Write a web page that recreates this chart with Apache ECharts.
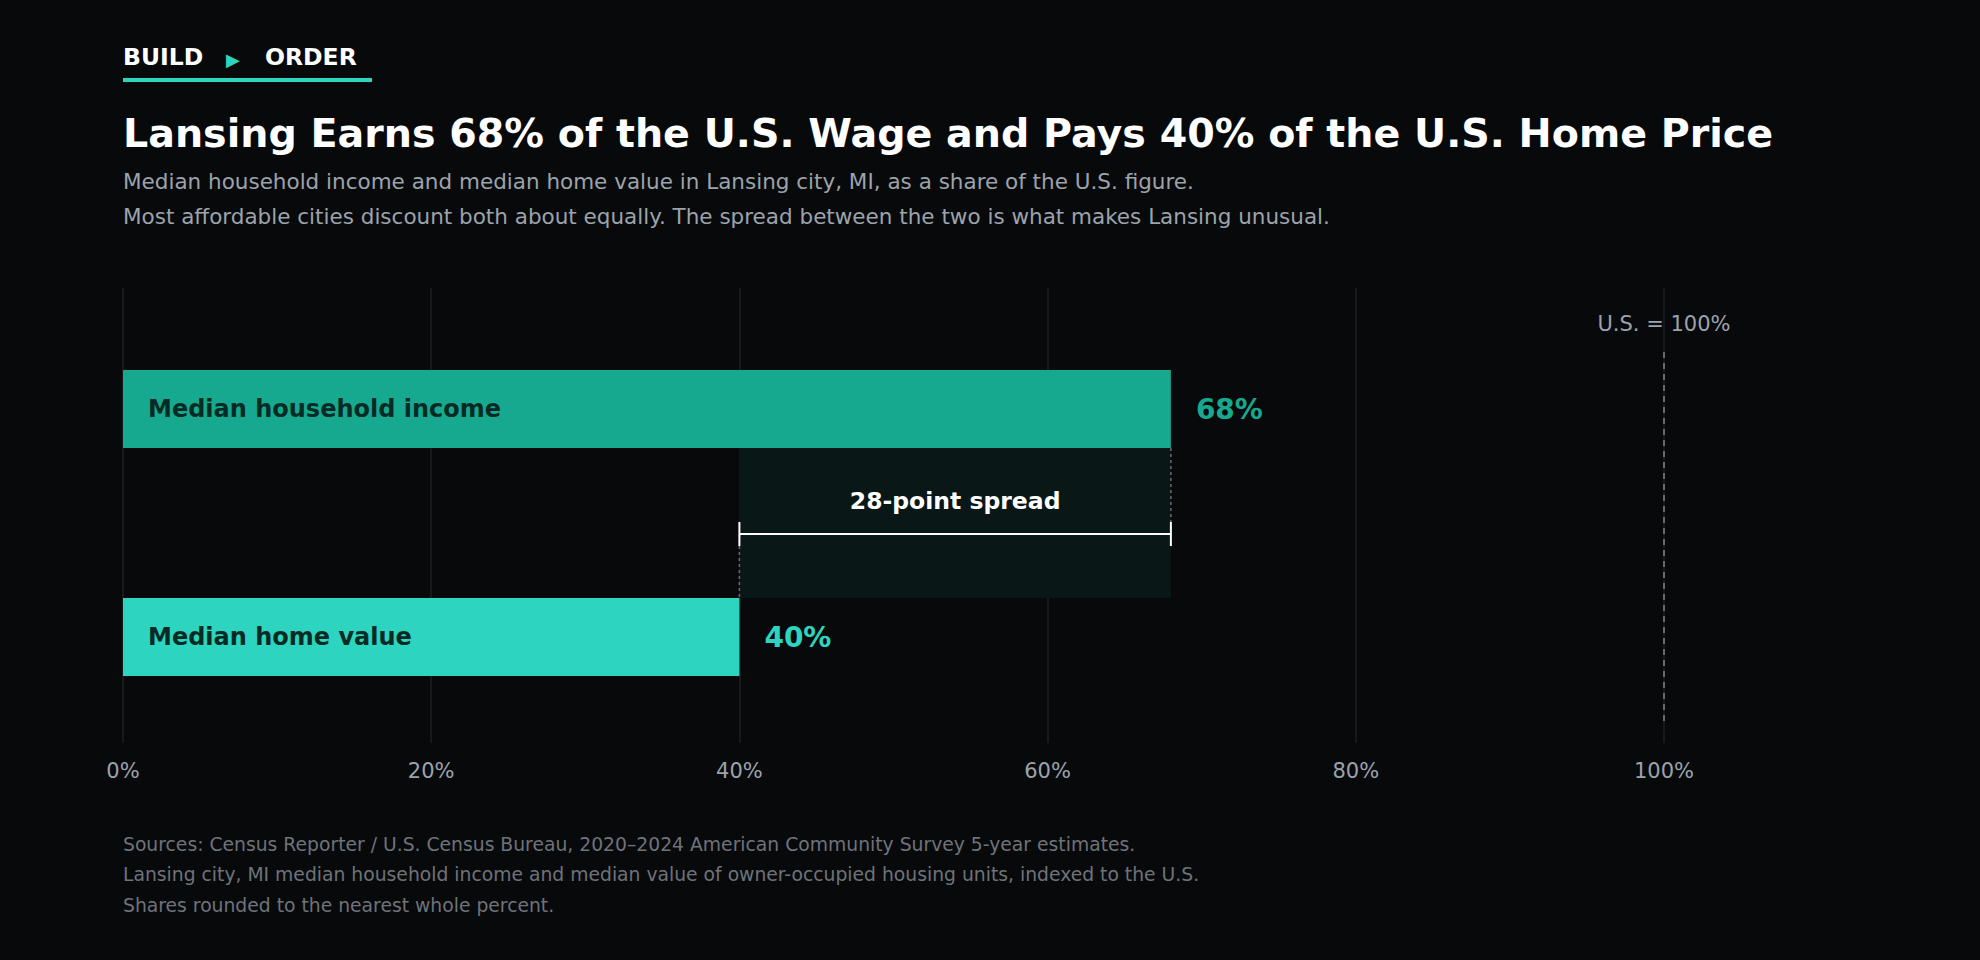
<!DOCTYPE html>
<html lang="en">
<head>
<meta charset="UTF-8">
<title>Lansing wage vs home price</title>
<script src="https://cdn.jsdelivr.net/npm/echarts@6.0.0/dist/echarts.min.js"></script>
<style>
  html, body { margin: 0; padding: 0; background: #08090b; }
  #box { width: 1980px; height: 960px; }
</style>
</head>
<body>
<div id="box"></div>
<script>
// data
var categories = ['Median household income', 'Median home value'];
var shares = [68, 40];
var barColors = ['#17a98f', '#2dd4bf'];
var usBaseline = 100;
var spreadLabel = '28-point spread';
var baselineLabel = 'U.S. = 100%';

var FONT = '"DejaVu Sans", "Noto Sans", sans-serif';
var BAR_W = 78;

var chart = echarts.init(document.getElementById('box'), null, { renderer: 'svg' });

function txt(x, y, text, size, weight, color, align) {
    return {
        type: 'text', x: x, y: y, silent: true,
        style: {
            text: text, fill: color,
            font: weight + ' ' + size + 'px ' + FONT,
            textAlign: align || 'left', align: align || 'left',
            textVerticalAlign: 'middle', verticalAlign: 'middle'
        }
    };
}

var barData = shares.map(function (v, i) {
    return { value: v, itemStyle: { color: barColors[i] } };
});
var valueData = shares.map(function (v, i) {
    return { value: v, label: { color: barColors[i] } };
});

// shaded gap + bracket + 100% reference, placed with the axis scales
function renderSpread(params, api) {
    var lo = api.value(0), hi = api.value(1);
    var top = api.coord([hi, 0]);
    var bot = api.coord([lo, 1]);
    var y1 = top[1] + BAR_W / 2;
    var y2 = bot[1] - BAR_W / 2;
    var xl = bot[0], xr = top[0];
    var yb = (y1 + y2) / 2 + 11;
    var ref = api.coord([usBaseline, 0]);
    var refB = api.coord([usBaseline, 1]);
    var dotted = { stroke: '#676d75', lineWidth: 1.5, lineDash: [3, 3] };
    return {
        type: 'group',
        children: [
            { type: 'rect', shape: { x: xl, y: y1, width: xr - xl, height: y2 - y1 },
              style: { fill: '#0a1717' } },
            { type: 'line', shape: { x1: xr, y1: y1, x2: xr, y2: yb }, style: dotted },
            { type: 'line', shape: { x1: xl, y1: yb, x2: xl, y2: y2 }, style: dotted },
            { type: 'line', shape: { x1: xl, y1: yb, x2: xr, y2: yb },
              style: { stroke: '#ffffff', lineWidth: 2 } },
            { type: 'line', shape: { x1: xl, y1: yb - 12, x2: xl, y2: yb + 12 },
              style: { stroke: '#ffffff', lineWidth: 2 } },
            { type: 'line', shape: { x1: xr, y1: yb - 12, x2: xr, y2: yb + 12 },
              style: { stroke: '#ffffff', lineWidth: 2 } },
            { type: 'text', style: { text: spreadLabel, x: (xl + xr) / 2, y: yb - 33,
              align: 'center', verticalAlign: 'middle', fill: '#ffffff',
              font: 'bold 23.5px ' + FONT } },
            { type: 'line', shape: { x1: ref[0], y1: ref[1] - BAR_W / 2 - 18, x2: ref[0], y2: refB[1] + BAR_W / 2 + 47 },
              style: { stroke: '#80858c', lineWidth: 1.5, lineDash: [6, 5] } },
            { type: 'text', style: { text: baselineLabel, x: ref[0], y: ref[1] - BAR_W / 2 - 46,
              align: 'center', verticalAlign: 'middle', fill: '#9ca3ab',
              font: '21px ' + FONT } }
        ]
    };
}

var option = {
    backgroundColor: '#08090b',
    animation: false,
    textStyle: { fontFamily: FONT },
    grid: [
        { left: 123, width: 1541, top: 288, height: 455 },
        { left: 123, width: 1541, top: 295, height: 456 }
    ],
    xAxis: [{
        gridIndex: 0, type: 'value', min: 0, max: 100, interval: 20,
        axisLine: { show: false }, axisTick: { show: false },
        splitLine: { lineStyle: { color: '#1d2024', width: 1.5 } },
        axisLabel: { formatter: '{value}%', color: '#9ca3ab', fontSize: 21, margin: 17, fontFamily: FONT }
    }, {
        gridIndex: 1, type: 'value', min: 0, max: 100, show: false
    }],
    yAxis: [{
        gridIndex: 0, type: 'category', data: categories, show: false
    }, {
        gridIndex: 1, type: 'category', data: categories, inverse: true, show: false
    }],
    graphic: [
        txt(123, 57, 'BUILD', 23.5, 'bold', '#ffffff'),
        txt(233, 59, '▶', 18, 'normal', '#2dd4bf', 'center'),
        txt(265, 57, 'ORDER', 23.5, 'bold', '#ffffff'),
        { type: 'rect', shape: { x: 123, y: 78, width: 249, height: 4 }, style: { fill: '#2dd4bf' }, silent: true },
        txt(123, 133, 'Lansing Earns 68% of the U.S. Wage and Pays 40% of the U.S. Home Price', 39.6, 'bold', '#ffffff'),
        txt(123, 181, 'Median household income and median home value in Lansing city, MI, as a share of the U.S. figure.', 21.5, 'normal', '#9ca3ab'),
        txt(123, 216, 'Most affordable cities discount both about equally. The spread between the two is what makes Lansing unusual.', 21.5, 'normal', '#9ca3ab'),
        txt(123, 844, 'Sources: Census Reporter / U.S. Census Bureau, 2020\u20132024 American Community Survey 5-year estimates.', 18.75, 'normal', '#6e737a'),
        txt(123, 874, 'Lansing city, MI median household income and median value of owner-occupied housing units, indexed to the U.S.', 18.75, 'normal', '#6e737a'),
        txt(123, 905, 'Shares rounded to the nearest whole percent.', 18.75, 'normal', '#6e737a')
    ],
    series: [{
        type: 'bar', xAxisIndex: 1, yAxisIndex: 1,
        data: barData, barWidth: BAR_W, z: 3,
        label: {
            show: true, position: 'insideLeft', distance: 25, formatter: '{b}',
            color: '#062b25', fontSize: 24, fontWeight: 'bold', fontFamily: FONT
        }
    }, {
        type: 'bar', xAxisIndex: 1, yAxisIndex: 1,
        data: valueData, barWidth: BAR_W, barGap: '-100%', z: 4,
        itemStyle: { color: 'rgba(0,0,0,0)' },
        label: {
            show: true, position: 'right', distance: 25, formatter: '{c}%',
            fontSize: 28, fontWeight: 'bold', fontFamily: FONT
        }
    }, {
        type: 'custom', xAxisIndex: 1, yAxisIndex: 1, z: 2,
        renderItem: renderSpread,
        data: [[shares[1], shares[0]]]
    }]
};

chart.setOption(option);
</script>
</body>
</html>
